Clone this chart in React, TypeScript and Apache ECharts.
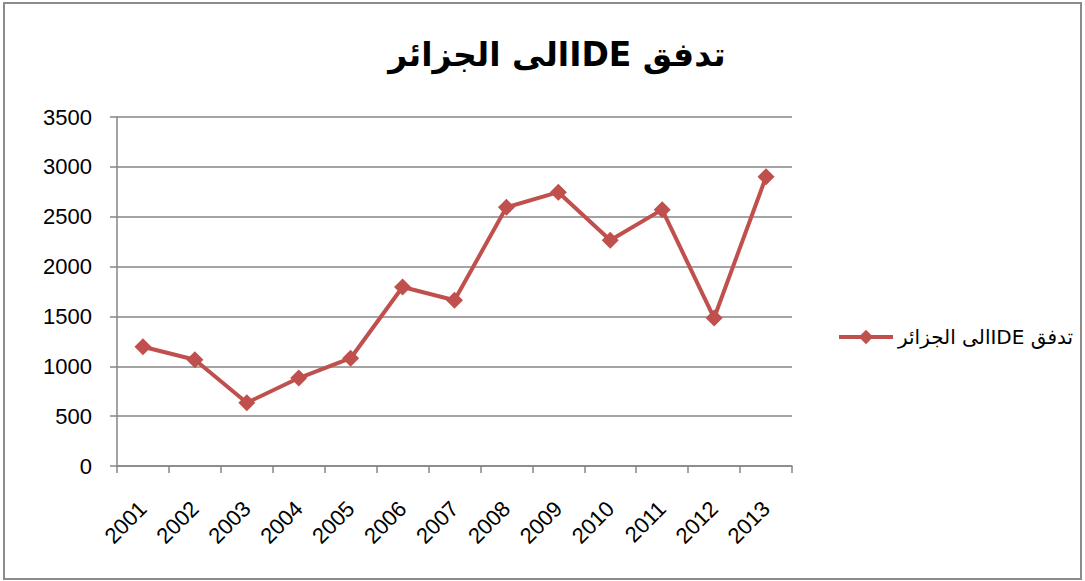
import React, { useEffect, useRef } from "react";
import * as echarts from "echarts";

const years = ["2001", "2002", "2003", "2004", "2005", "2006", "2007", "2008", "2009", "2010", "2011", "2012", "2013"];
const flows = [1196, 1065, 634, 882, 1081, 1795, 1662, 2594, 2746, 2264, 2571, 1484, 2900];
const titleText = "تدفق IDEالى الجزائر";
const seriesName = "تدفق IDEالى الجزائر";
const RLE = "\u202B";
const PDF = "\u202C";

export default function App() {
  const ref = useRef<HTMLDivElement>(null);
  useEffect(() => {
    document.body.style.margin = "0";
    const chart = echarts.init(ref.current!, null, { renderer: "svg" });
    const font = "'Liberation Sans', 'DejaVu Sans', sans-serif";
    chart.setOption({
      animation: false,
      backgroundColor: "#ffffff",
      textStyle: { fontFamily: font },
      title: {
        text: RLE + titleText + PDF,
        left: 552,
        textAlign: "center",
        top: 33,
        textStyle: { fontSize: 33, fontWeight: "bold", color: "#000", fontFamily: "'DejaVu Sans', 'Liberation Sans', sans-serif" },
      },
      legend: {
        left: 832,
        top: 322,
        itemWidth: 54,
        itemHeight: 18,
        itemGap: 5,
        formatter: () => RLE + seriesName + PDF,
        lineStyle: { width: 4 },
        textStyle: { fontSize: 20, color: "#000", fontFamily: "'DejaVu Sans', 'Liberation Sans', sans-serif" },
        data: [{ name: seriesName }],
      },
      graphic: [
        {
          type: "rect",
          shape: { x: 4, y: 3, width: 1077, height: 576 },
          style: { fill: "none", stroke: "#8c8c8c", lineWidth: 2 },
          silent: true,
        },
      ],
      grid: { left: 117, right: 293, top: 117, bottom: 115, containLabel: false },
      xAxis: {
        type: "category",
        data: years,
        boundaryGap: true,
        axisLine: { lineStyle: { color: "#868686", width: 1.5 } },
        axisTick: { show: true, length: 7, alignWithLabel: false, lineStyle: { color: "#868686", width: 1.5 } },
        axisLabel: { rotate: 45, margin: 39, fontSize: 22, color: "#000", fontFamily: font },
      },
      yAxis: {
        type: "value",
        min: 0,
        max: 3500,
        interval: 500,
        axisLine: { show: true, lineStyle: { color: "#868686", width: 1.5 } },
        axisTick: { show: true, length: 7, lineStyle: { color: "#868686", width: 1.5 } },
        splitLine: { show: true, lineStyle: { color: "#868686", width: 1.5 } },
        axisLabel: { margin: 25, fontSize: 22, color: "#000", fontFamily: font, formatter: (v: number) => String(v) },
      },
      series: [
        {
          name: seriesName,
          type: "line",
          data: flows,
          symbol: "diamond",
          symbolSize: 17,
          lineStyle: { color: "#C0504D", width: 4 },
          itemStyle: { color: "#C0504D" },
        },
      ],
    });
    return () => chart.dispose();
  }, []);
  return <div ref={ref} style={{ width: 1085, height: 581 }} />;
}
